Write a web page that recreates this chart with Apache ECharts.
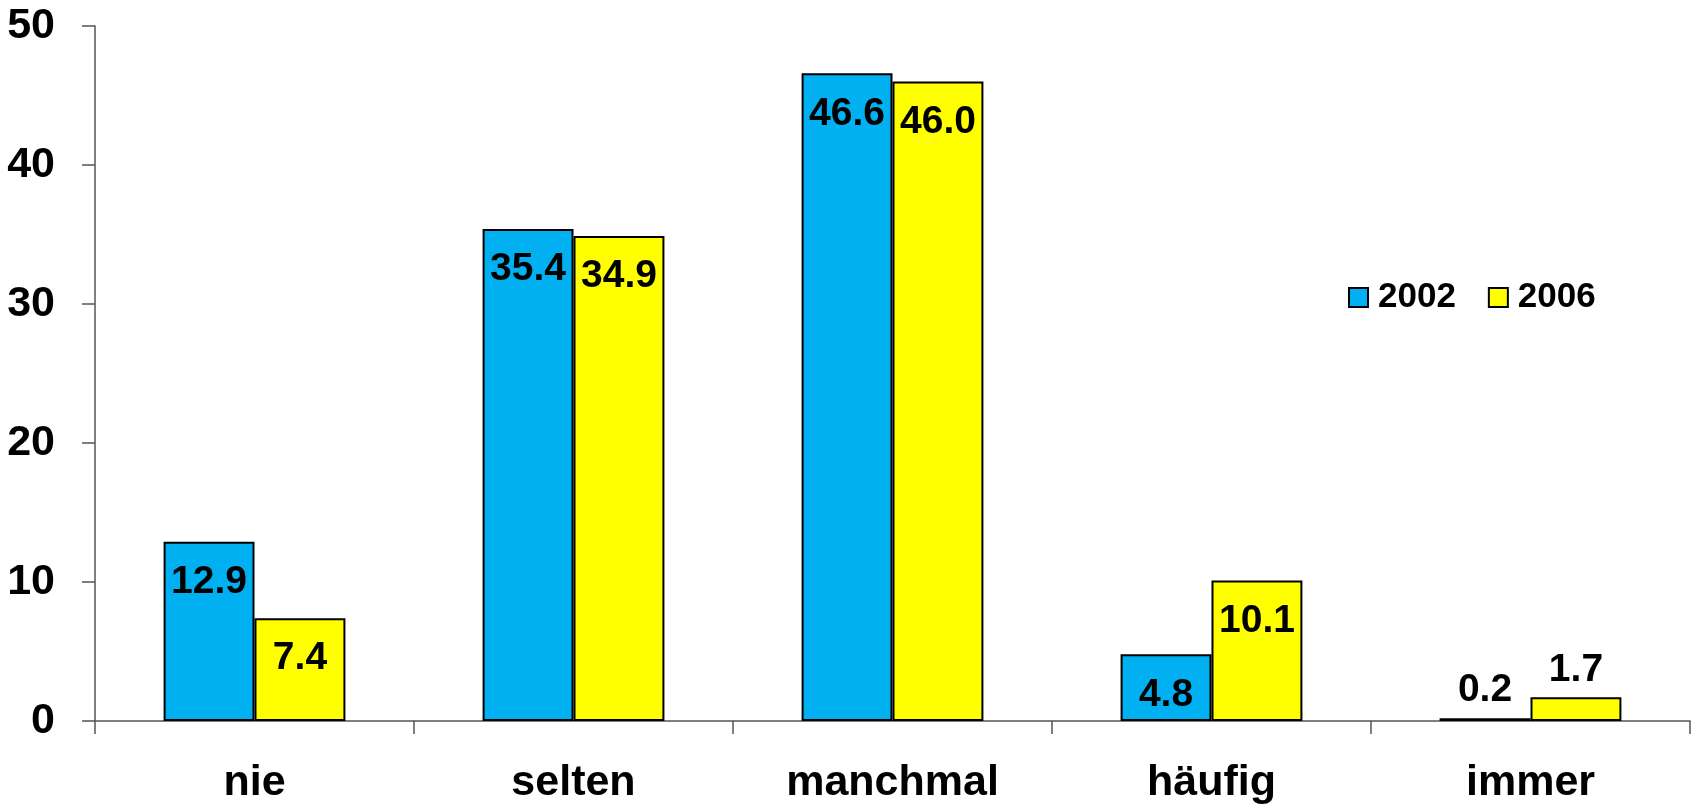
<!DOCTYPE html>
<html>
<head>
<meta charset="utf-8">
<script src="https://cdn.jsdelivr.net/npm/echarts@6/dist/echarts.min.js"></script>
<style>
html, body { margin: 0; padding: 0; background: #fff; }
#chart { width: 1695px; height: 806px; }
</style>
</head>
<body>
<div id="chart"></div>
<script>
// Frequency categories and shares per survey year
const categories = ['nie', 'selten', 'manchmal', 'häufig', 'immer'];
const years = ['2002', '2006'];
const values2002 = [12.9, 35.4, 46.6, 4.8, 0.2];
const values2006 = [7.4, 34.9, 46.0, 10.1, 1.7];
const yTicks = [0, 10, 20, 30, 40, 50];

const FONT = '"Liberation Sans", Arial, sans-serif';
const colors = ['#00B0F0', '#FFFF00'];

// Small bars carry their label above the bar, the rest inside at the top
function barData(vals) {
  return vals.map(v => {
    const item = { value: v };
    if (v < 3) {
      item.label = { position: 'top', distance: 8 };
    }
    return item;
  });
}

function makeSeries(name, vals, color) {
  return {
    name: name,
    type: 'bar',
    data: barData(vals),
    barGap: '0%',
    barCategoryGap: '43%',
    itemStyle: { color: color, borderColor: '#000', borderWidth: 2 },
    label: {
      show: true,
      position: 'insideTop',
      distance: 21,
      formatter: p => p.value.toFixed(1),
      color: '#000',
      fontFamily: FONT,
      fontWeight: 'bold',
      fontSize: 39
    },
    emphasis: { disabled: true }
  };
}

const chart = echarts.init(document.getElementById('chart'), null, { renderer: 'canvas' });
chart.setOption({
  animation: false,
  backgroundColor: '#ffffff',
  grid: { left: 95, right: 5, top: 26, bottom: 85, containLabel: false },
  legend: {
    data: years,
    left: 1343,
    top: 275,
    itemWidth: 19,
    itemHeight: 19,
    itemGap: 32,
    icon: 'rect',
    itemStyle: { borderColor: '#000', borderWidth: 2 },
    textStyle: { fontFamily: FONT, fontWeight: 'bold', fontSize: 35, color: '#000', padding: [0, 0, 0, 5] }
  },
  xAxis: {
    type: 'category',
    data: categories,
    axisLine: { show: true, lineStyle: { color: '#555', width: 1.5 } },
    axisTick: { show: true, length: 13, lineStyle: { color: '#555', width: 1.5 } },
    axisLabel: {
      margin: 41,
      color: '#000',
      fontFamily: FONT,
      fontWeight: 'bold',
      fontSize: 43
    },
    splitLine: { show: false }
  },
  yAxis: {
    type: 'value',
    min: yTicks[0],
    max: yTicks[yTicks.length - 1],
    interval: yTicks[1] - yTicks[0],
    axisLine: { show: true, lineStyle: { color: '#555', width: 1.5 } },
    axisTick: { show: true, inside: false, length: 13, lineStyle: { color: '#555', width: 1.5 } },
    axisLabel: {
      margin: 40,
      color: '#000',
      fontFamily: FONT,
      fontWeight: 'bold',
      fontSize: 43
    },
    splitLine: { show: false }
  },
  series: [
    makeSeries(years[0], values2002, colors[0]),
    makeSeries(years[1], values2006, colors[1])
  ]
});
</script>
</body>
</html>
